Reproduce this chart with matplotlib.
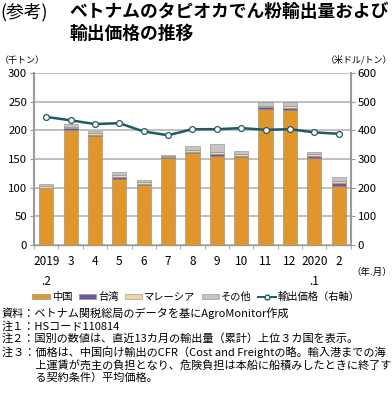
import numpy as np
import matplotlib.pyplot as plt
from matplotlib.patches import Patch
from matplotlib.lines import Line2D

plt.rcParams['font.family'] = ['Noto Sans CJK JP', 'DejaVu Sans']

months = ["2019\n.2", "3", "4", "5", "6", "7", "8", "9", "10", "11", "12", "2020\n.1", "2"]
china = [99, 200, 190, 115, 104, 151, 161, 156, 153, 238, 235, 152, 103]
taiwan = [1, 4, 2, 4, 3, 2, 2, 3, 3, 3, 4, 3, 5]
malaysia = [3, 2, 3, 3, 3, 2, 3, 3, 2, 2, 4, 3, 4]
other = [3, 5, 4, 5, 4, 2, 7, 14, 6, 6, 7, 4, 7]
price = [447, 435, 422, 425, 396, 383, 404, 404, 408, 402, 404, 393, 388]

c_china = "#E0962A"
c_taiwan = "#6B56A6"
c_malay = "#F1D6A2"
c_other = "#C4C4C6"
c_line = "#1F5A66"

fig = plt.figure(figsize=(3.92, 3.95), dpi=100)
ax = fig.add_axes([0.087, 0.38, 0.808, 0.435])
x = np.arange(len(months))
w = 0.58
ec = "#8a8a8a"
bottom = np.zeros(len(months))
for vals, col in [(china, c_china), (taiwan, c_taiwan), (malaysia, c_malay), (other, c_other)]:
    ax.bar(x, vals, w, bottom=bottom, color=col, edgecolor=ec, linewidth=0.4, zorder=3)
    bottom += np.array(vals)

ax.set_ylim(0, 300)
ax.set_xlim(-0.5, 12.5)
ax.set_yticks(range(0, 301, 50))
ax.yaxis.grid(True, color="#b5b5b5", linewidth=1.2, zorder=0)
ax.set_xticks(x)
ax.set_xticklabels(months, fontsize=8.5, linespacing=1.75, va="top")
ax.set_xticks(np.arange(-0.5, 13, 1), minor=True)
ax.tick_params(axis="x", which="major", length=0, pad=7)
ax.tick_params(axis="x", which="minor", length=3, color="#999999", direction="out")
ax.tick_params(axis="y", labelsize=8.2, length=3, color="#999999", pad=2)
for s in ["top", "right"]:
    ax.spines[s].set_visible(False)
ax.spines["left"].set_color("#9a9a9a")
ax.spines["left"].set_linewidth(1.5)
ax.spines["bottom"].set_color("#9a9a9a")
ax.spines["bottom"].set_linewidth(1.0)

ax2 = ax.twinx()
ax2.plot(x, price, color=c_line, linewidth=1.8, marker="o", markersize=4.2,
         markerfacecolor="white", markeredgecolor=c_line, markeredgewidth=0.9, zorder=5)
ax2.set_ylim(0, 600)
ax2.set_yticks(range(0, 601, 100))
ax2.tick_params(axis="y", labelsize=8.2, length=3, color="#999999", pad=2)
for s in ["top", "left", "bottom"]:
    ax2.spines[s].set_visible(False)
ax2.spines["right"].set_color("#9a9a9a")
ax2.spines["right"].set_linewidth(1.5)

fig.text(0.0, 0.97, "(参考)", fontsize=12.8, va="center")
fig.text(0.176, 0.97, "ベトナムのタピオカでん粉輸出量および", fontsize=12.8, fontweight="bold", va="center")
fig.text(0.176, 0.914, "輸出価格の推移", fontsize=12.8, fontweight="bold", va="center")
fig.text(0.0, 0.848, "（千トン）", fontsize=6.5, va="center")
fig.text(1.0, 0.848, "（米ドル/トン）", fontsize=6.5, va="center", ha="right")
fig.text(1.0, 0.31, "（年.月）", fontsize=6.8, va="center", ha="right")

handles = [Patch(facecolor=c_china, edgecolor=ec, linewidth=0.4),
           Patch(facecolor=c_taiwan, edgecolor=ec, linewidth=0.4),
           Patch(facecolor=c_malay, edgecolor=ec, linewidth=0.4),
           Patch(facecolor=c_other, edgecolor=ec, linewidth=0.4),
           Line2D([], [], color=c_line, marker="o", markersize=3.5, markerfacecolor="white", linewidth=1.4)]
labels = ["中国", "台湾", "マレーシア", "その他", "輸出価格（右軸）"]
fig.legend(handles, labels, loc="center", bbox_to_anchor=(0.5, 0.248), ncol=5, frameon=False,
           fontsize=7.4, handlelength=1.7, handleheight=0.45, handletextpad=0.2, columnspacing=0.6)

notes = ("資料：ベトナム関税総局のデータを基にAgroMonitor作成\n"
         "注１：HSコード110814\n"
         "注２：国別の数値は、直近13カ月の輸出量（累計）上位３カ国を表示。\n"
         "注３：価格は、中国向け輸出のCFR（Cost and Freightの略。輸入港までの海\n"
         "　　　上運賃が売主の負担となり、危険負担は本船に船積みしたときに終了す\n"
         "　　　る契約条件）平均価格。")
fig.text(0.005, 0.222, notes, fontsize=8.0, va="top", linespacing=1.22)

fig.savefig("out.png", dpi=100)
